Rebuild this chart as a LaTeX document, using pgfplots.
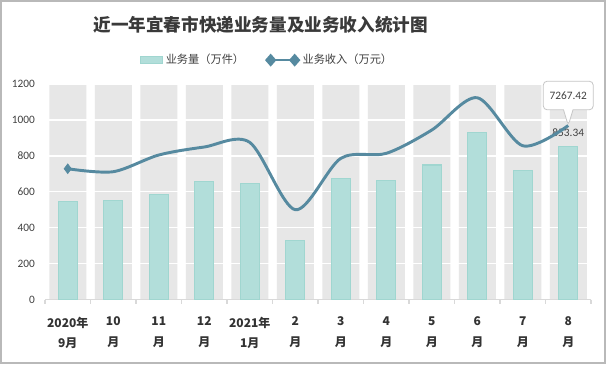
\documentclass[border=0pt]{standalone}
\usepackage{pgfplots}
\pgfplotsset{compat=1.18}
\usepackage{fontspec}
\setmainfont{Carlito}
\newfontfamily\cjk{Noto Sans CJK SC}
\usetikzlibrary{shapes.callouts}
\definecolor{barc}{RGB}{178,222,218}
\definecolor{bard}{RGB}{160,214,208}
\definecolor{linec}{RGB}{86,138,160}
\definecolor{bandc}{RGB}{231,231,231}
\definecolor{txt}{RGB}{64,64,64}
\definecolor{axc}{RGB}{217,217,217}
\pgfplotsset{base/.style={at={(33.75pt,48.375pt)}, anchor=south west,
  scale only axis, width=409.5pt, height=161.6pt, xmin=-0.5, xmax=11.5}}
\begin{document}
\begin{tikzpicture}
\path[use as bounding box] (0pt,0pt) rectangle (454.5pt,273pt);
\fill[white] (0pt,0pt) rectangle (454.5pt,273pt);
\draw[gray!55, line width=1.2pt] (0.6pt,0.6pt) rectangle (453.9pt,272.4pt);
\node[text=txt!90!black] at (195.5pt,254.5pt) {\cjk\bfseries\fontsize{13.2}{16}\selectfont 近一年宜春市快递业务量及业务收入统计图};
\begin{axis}[base, ymin=0, ymax=1200, axis lines=none, ticks=none]
\addplot[ybar, bar shift=0pt, fill=bandc, draw=none, bar width=27.75pt] coordinates {(0,1200)(1,1200)(2,1200)(3,1200)(4,1200)(5,1200)(6,1200)(7,1200)(8,1200)(9,1200)(10,1200)(11,1200)};
\end{axis}
\begin{axis}[base, ymin=0, ymax=1200,
  ytick={0,200,...,1200},
  xtick={0,...,11},
  xticklabels={{2020年\\9月},{10\\月},{11\\月},{12\\月},{2021年\\1月},{2\\月},{3\\月},{4\\月},{5\\月},{6\\月},{7\\月},{8\\月}},
  x tick label style={font=\cjk\bfseries\fontsize{9}{15.5}\selectfont, align=center, text=txt!80!black, yshift=-9.5pt},
  y tick label style={font=\fontsize{8.5}{10}\selectfont, text=txt, xshift=-4pt},
  /pgf/number format/assume math mode=true,
  /pgf/number format/1000 sep={},
  major tick length=0pt,
  ymajorgrids, grid style={white, line width=1.1pt},
  axis lines*=left,
  x axis line style={draw=axc, line width=0.8pt, -},
  y axis line style={draw=none},
  clip=false,
]
\addplot[ybar, bar shift=0pt, fill=barc, draw=bard, line width=0.8pt, bar width=14.25pt] coordinates {(0,545)(1,552)(2,583)(3,656)(4,647)(5,327)(6,675)(7,665)(8,749)(9,929)(10,717)(11,853.34)};
\node[above, font=\fontsize{8.5}{10}\selectfont, text=txt, inner sep=1pt, yshift=6pt] at (axis cs:11,853.34) {853.34};
\pgfplotsinvokeforeach{-0.5,0.5,1.5,2.5,3.5,4.5,5.5,6.5,7.5,8.5,9.5,10.5,11.5}{
  \draw[axc, line width=0.8pt] (axis cs:#1,0) -- ++(0pt,-3pt);
}
\end{axis}
\begin{axis}[base, ymin=0, ymax=9000,
  axis lines=none, ticks=none, clip=false,
  legend columns=2,
  legend style={at={(0.407,1.111)}, anchor=center, draw=none, fill=none,
    font=\cjk\fontsize{8.4}{10}\selectfont, text=txt,
    /tikz/every even column/.append style={column sep=14pt}},
]
\addlegendimage{legend image code/.code={\draw[fill=barc, draw=bard, line width=0.6pt] (0pt,-2.6pt) rectangle (17pt,2.6pt);}}
\addlegendentry{业务量（万件）}
\addplot[linec, line width=2.2pt, smooth, tension=0.5, mark=diamond*, mark indices={1}, mark size=3.6pt, mark options={fill=linec, draw=linec, line width=0.5pt},
  legend image code/.code={\draw[linec, line width=2pt] (0pt,0pt) -- (18pt,0pt); \fill[linec] (0pt,3.2pt) -- (2.8pt,0pt) -- (0pt,-3.2pt) -- (-2.8pt,0pt) -- cycle; \fill[linec] (18pt,3.2pt) -- (20.8pt,0pt) -- (18pt,-3.2pt) -- (15.2pt,0pt) -- cycle;}]
 coordinates {(0,5462)(1,5338)(2,6035)(3,6370)(4,6563)(5,3750)(6,5895)(7,6105)(8,7078)(9,8427)(10,6422)(11,7267.42)};
\addlegendentry{业务收入（万元）}
\node[rectangle callout, rounded corners=3pt, draw=gray!45, fill=white, line width=0.6pt,
  minimum width=37.5pt, minimum height=21.5pt, font=\fontsize{8.5}{10}\selectfont, text=txt,
  callout absolute pointer={(axis cs:11,7267.42)}] at ([yshift=22.5pt]axis cs:11,7267.42) {7267.42};
\end{axis}
\end{tikzpicture}
\end{document}
